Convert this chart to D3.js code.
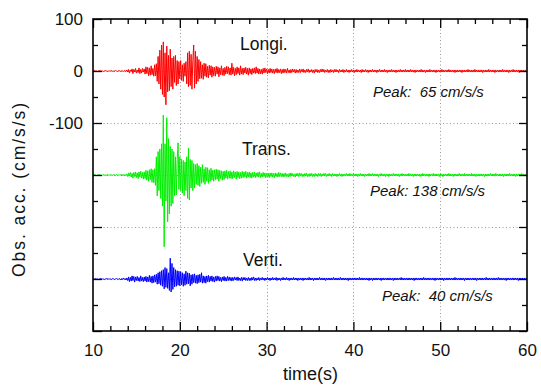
<!DOCTYPE html>
<html>
<head>
<meta charset="utf-8">
<script src="https://cdn.jsdelivr.net/npm/d3@7"></script>
<style>
  body { margin: 0; background: #fff; }
  text { font-family: "Liberation Sans", Arial, sans-serif; fill: #111; }
</style>
</head>
<body>
<div id="chart"></div>
<script>
// time axis of the records
var startTime = 10, sampleStep = 0.1;

// x ticks (s) and y ticks (cm/s/s)
var xMajor = [10, 20, 30, 40, 50, 60];
var xMinor = [12, 14, 16, 18, 22, 24, 26, 28, 32, 34, 36, 38, 42, 44, 46, 48, 52, 54, 56, 58];
var yMajor = [100, 0, -100, -200, -300, -400, -500];
var yMinor = [50, -50, -150, -250, -350, -450];
var yLabelled = [100, 0, -100];

// components, baseline offsets, peak notes
var compNames = ["Longi.", "Trans.", "Verti."];
var compOffsets = [0, -200, -400];
var compColors = ["#ff0000", "#00f000", "#0000ff"];
var peakNotes = ["Peak:  65 cm/s/s", "Peak: 138 cm/s/s", "Peak:  40 cm/s/s"];

// acceleration samples every 0.1 s from 10 s to 60 s (cm/s/s)
var longi = [
  0,0,1,0,0,-1,0,0,1,0,0,0,-1,0,1,0,0,-1,0,0,
  0,1,0,-1,0,0,1,0,-1,0,1,0,-1,1,0,-1,1,0,-1,2,
  -2,3,-4,2,-1,4,-5,3,-2,5,-4,2,-3,6,-5,3,-4,5,-2,4,
  -6,8,-5,7,-9,6,-8,10,-7,5,-10,12,-9,14,-20,28,-25,40,-35,50,
  -45,56,-50,35,-65,48,-40,30,-38,42,-30,25,-35,28,-22,30,-28,20,-25,18,
  -15,20,-18,12,-20,15,-10,18,-25,35,-30,38,-28,32,-35,20,50,-33,38,-25,
  28,-20,22,-15,18,-14,12,-16,15,-10,14,-12,9,-13,11,-8,10,-12,8,-9,
  7,-10,9,-6,8,-11,6,-7,10,-8,5,-9,7,-6,9,-5,8,-7,6,-8,
  15,-6,7,-9,5,-7,8,-5,6,-8,10,-6,5,-7,6,-4,7,-6,5,-8,
  6,-5,4,-7,5,-4,6,-5,8,-4,5,-6,4,-5,3,-6,5,-4,6,-3,
  4,-5,3,-4,5,-3,4,-4,3,-5,4,-3,5,-4,3,-3,4,-5,3,-4,
  4,-3,3,-4,5,-3,2,-4,3,-3,4,-2,3,-4,3,-3,2,-3,4,-3,
  3,-2,4,-3,2,-3,3,-2,4,-3,2,-2,3,-3,2,-4,3,-2,3,-3,
  2,-3,3,-2,4,-2,3,-3,2,-2,3,-3,2,-3,3,-2,2,-3,3,-2,
  3,-2,2,-3,3,-2,2,-2,3,-3,2,-2,3,-2,2,-3,2,-2,3,-2,
  2,-3,2,-2,3,-2,2,-2,2,-3,3,-2,2,-2,3,-2,2,-3,2,-2,
  2,-2,3,-2,2,-2,2,-3,2,-2,3,-2,2,-2,2,-2,3,-2,2,-3,
  2,-2,2,-2,3,-2,2,-2,2,-3,2,-2,2,-2,3,-2,2,-2,2,-2,
  3,-2,2,-2,2,-2,3,-2,2,-2,2,-3,2,-2,2,-2,2,-2,3,-2,
  2,-2,2,-3,2,-2,2,-2,3,-2,2,-2,2,-2,2,-3,2,-2,2,-2,
  2,-2,3,-2,2,-2,2,-2,2,-2,3,-2,2,-2,2,-2,2,-3,2,-2,
  2,-2,2,-2,2,-3,2,-2,2,-2,2,-2,3,-2,2,-2,2,-2,2,-2,
  3,-2,2,-2,2,-2,2,-2,2,-3,2,-2,2,-2,2,-2,3,-2,2,-2,
  2,-2,2,-3,2,-2,2,-2,2,-2,2,-2,3,-2,2,-2,2,-2,2,-3,
  2,-2,2,-2,3,-2,2,-2,2,-2,2,-3,2,-2,2,-2,2,-2,2,-2,
  0
];

var trans = [
  0,0,1,0,-1,0,0,1,0,0,-1,0,1,0,0,-1,0,1,0,0,
  0,1,-1,0,1,0,-1,1,0,-1,1,-1,0,2,-1,1,-2,1,-1,2,
  -3,4,-2,5,-4,3,-6,5,-3,6,-5,4,-7,6,-4,7,-6,5,-8,6,
  -7,9,-10,8,-12,10,-9,12,-14,10,-15,12,-20,35,-40,45,-30,50,-45,60,
  -60,115,-138,60,-50,110,-90,70,-75,55,-60,50,-55,45,-40,35,-38,30,62,-28,
  35,-30,30,-35,28,-40,25,-30,35,-45,52,-48,30,-25,28,-30,22,-25,20,-18,
  22,-20,18,-22,15,-16,20,-14,12,-18,15,-12,14,-16,10,-12,13,-10,9,-12,
  10,-9,11,-8,10,-12,9,-7,8,-10,7,-9,8,-6,9,-8,7,-6,8,-7,
  6,-7,8,-5,6,-8,7,-5,6,-7,5,-6,7,-5,6,-4,7,-6,5,-4,
  6,-5,4,-6,5,-4,6,-5,4,-3,5,-4,6,-5,3,-4,5,-3,4,-5,
  3,-4,3,-5,4,-3,4,-4,3,-5,4,-3,3,-4,5,-3,4,-3,3,-4,
  3,-3,4,-3,2,-4,3,-3,4,-2,3,-3,2,-4,3,-2,3,-3,4,-2,
  3,-3,2,-3,3,-2,4,-3,2,-3,3,-2,3,-3,2,-3,3,-2,2,-3,
  3,-2,3,-3,2,-2,3,-2,3,-3,2,-2,3,-2,2,-3,3,-2,2,-2,
  2,-3,2,-2,3,-2,2,-3,2,-2,2,-2,3,-2,2,-2,3,-2,2,-2,
  3,-2,2,-2,2,-3,2,-2,3,-2,2,-2,2,-3,2,-2,2,-2,3,-2,
  2,-2,3,-2,2,-2,2,-2,2,-3,2,-2,3,-2,2,-2,2,-3,2,-2,
  2,-3,2,-2,2,-2,3,-2,2,-2,2,-2,2,-3,2,-2,3,-2,2,-2,
  2,-2,2,-2,3,-2,2,-2,2,-3,2,-2,2,-2,2,-2,2,-3,2,-2,
  3,-2,2,-2,2,-2,2,-3,2,-2,2,-2,3,-2,2,-2,2,-2,2,-3,
  2,-2,2,-3,2,-2,2,-2,2,-2,3,-2,2,-2,2,-3,2,-2,2,-2,
  2,-2,3,-2,2,-2,2,-2,3,-2,2,-2,2,-2,2,-2,3,-2,2,-2,
  2,-3,2,-2,2,-2,2,-2,2,-2,2,-3,2,-2,2,-2,2,-2,3,-2,
  2,-2,2,-2,3,-2,2,-2,2,-2,2,-2,2,-3,2,-2,2,-2,2,-2,
  3,-2,2,-2,2,-2,2,-3,2,-2,2,-2,2,-2,3,-2,2,-2,2,-2,
  0
];

var verti = [
  0,0,0,1,0,0,-1,0,0,1,0,0,0,-1,0,0,1,0,0,0,
  0,-1,0,1,0,-1,0,1,0,-1,1,0,-2,1,-1,2,-1,1,-2,2,
  -3,4,-5,3,-4,6,-3,5,-6,4,-3,5,-4,3,-5,6,-4,3,-5,4,
  -4,5,-6,4,-5,7,-6,5,-8,6,-7,8,-6,9,-10,12,-9,14,-12,16,
  -14,18,-19,22,-16,20,-18,12,-22,40,-25,30,-20,22,-15,18,-14,16,-12,15,
  -13,14,-11,12,-14,10,-12,15,-10,12,-9,11,-13,8,-10,9,-7,10,-8,7,
  -9,8,-7,9,-6,12,-8,6,-7,5,-8,6,-5,7,-6,5,-4,6,-5,4,
  -6,5,-4,6,-3,5,-4,3,-5,4,-3,5,-4,3,-4,5,-3,4,-3,3,
  -4,3,-3,4,-2,3,-3,4,-3,2,-3,3,-4,3,-2,3,-3,2,-3,3,
  -3,2,-3,3,-2,4,-3,2,-3,2,-2,3,-3,2,-2,3,-2,2,-3,2,
  -2,3,-2,2,-3,2,-2,3,-2,2,-2,3,-3,2,-2,2,-3,2,-2,3,
  -2,2,-2,3,-2,2,-3,2,-2,2,-2,3,-2,2,-2,2,-3,2,-2,2,
  -2,2,-3,2,-2,2,-2,2,-2,3,-2,2,-2,2,-3,2,-2,2,-2,2,
  -2,3,-2,2,-2,2,-2,2,-3,2,-2,2,-2,2,-2,2,-2,3,-2,2,
  -2,2,-2,2,-2,3,-2,2,-2,2,-2,2,-2,2,-3,2,-2,2,-2,2,
  -2,2,-2,2,-2,2,-2,3,-2,2,-2,2,-2,2,-2,2,-2,2,-3,2,
  -2,2,-3,2,-2,2,-2,2,-2,2,-2,2,-3,2,-2,2,-2,2,-2,2,
  -2,2,-2,2,-2,2,-3,2,-2,2,-2,2,-2,2,-2,3,-2,2,-2,2,
  -2,2,-2,2,-2,2,-2,2,-2,2,-3,2,-2,2,-2,2,-2,2,-2,2,
  -2,3,-2,2,-2,2,-2,2,-2,2,-2,2,-2,2,-3,2,-2,2,-2,2,
  -2,2,-2,2,-3,2,-2,2,-2,2,-2,2,-2,2,-2,2,-2,3,-2,2,
  -2,2,-2,2,-2,2,-2,2,-3,2,-2,2,-2,2,-2,2,-2,2,-2,2,
  -2,2,-3,2,-2,2,-2,2,-2,2,-2,2,-2,3,-2,2,-2,2,-2,2,
  -2,2,-2,2,-2,2,-2,3,-2,2,-2,2,-2,2,-2,2,-3,2,-2,2,
  -2,2,-2,2,-2,2,-2,2,-2,2,-3,2,-2,2,-2,2,-2,2,-2,2,
  0
];

var records = [longi, trans, verti];

var width = 541, height = 385;
var margin = {top: 19, right: 14, bottom: 54, left: 93};

var svg = d3.select("#chart").append("svg")
    .attr("width", width)
    .attr("height", height);

var x = d3.scaleLinear().domain([10, 60]).range([margin.left, width - margin.right]);
var y = d3.scaleLinear().domain([-500, 100]).range([height - margin.bottom, margin.top]);

//dotted grid
var grid = svg.append("g").attr("stroke", "#999").attr("stroke-width", 1).attr("stroke-dasharray", "1,2.5");
grid.selectAll(".gx").data(xMajor.slice(1, -1)).enter().append("line")
    .attr("x1", function(d) { return Math.round(x(d)) + 0.5; })
    .attr("x2", function(d) { return Math.round(x(d)) + 0.5; })
    .attr("y1", y(100)).attr("y2", y(-500));
grid.selectAll(".gy").data(yMajor.slice(1, -1)).enter().append("line")
    .attr("y1", function(d) { return Math.round(y(d)) + 0.5; })
    .attr("y2", function(d) { return Math.round(y(d)) + 0.5; })
    .attr("x1", x(10)).attr("x2", x(60));

//traces
var line = d3.line()
    .x(function(d, i) { return x(startTime + i * sampleStep); });

records.forEach(function(rec, k) {
  svg.append("path")
      .datum(rec)
      .attr("fill", "none")
      .attr("stroke", compColors[k])
      .attr("stroke-width", 1)
      .attr("stroke-linejoin", "round")
      .attr("d", line.y(function(d) { return y(d + compOffsets[k]); }));
});

//axes with inward ticks
function styleAxis(g) {
  g.select(".domain").remove();
  g.selectAll("line").attr("stroke", "#000").attr("stroke-width", 1.3);
  g.selectAll("text").attr("font-size", "17px").attr("fill", "#111")
    .attr("font-family", "'Liberation Sans', Arial, sans-serif");
}

svg.append("g")
    .attr("transform", "translate(0," + y(-500) + ")")
    .call(d3.axisBottom(x).tickValues(xMajor).tickSizeInner(-9).tickSizeOuter(0).tickPadding(13)
      .tickFormat(function(d) { return d; }))
    .call(styleAxis);
svg.append("g")
    .attr("transform", "translate(0," + y(-500) + ")")
    .call(d3.axisBottom(x).tickValues(xMinor).tickSizeInner(-5).tickSizeOuter(0).tickFormat(""))
    .call(styleAxis);
svg.append("g")
    .attr("transform", "translate(0," + y(100) + ")")
    .call(d3.axisTop(x).tickValues(xMajor).tickSizeInner(-9).tickSizeOuter(0).tickFormat(""))
    .call(styleAxis);
svg.append("g")
    .attr("transform", "translate(0," + y(100) + ")")
    .call(d3.axisTop(x).tickValues(xMinor).tickSizeInner(-5).tickSizeOuter(0).tickFormat(""))
    .call(styleAxis);

svg.append("g")
    .attr("transform", "translate(" + x(10) + ",0)")
    .call(d3.axisLeft(y).tickValues(yMajor).tickSizeInner(-9).tickSizeOuter(0).tickPadding(10)
      .tickFormat(function(d) { return yLabelled.indexOf(d) >= 0 ? String(d) : ""; }))
    .call(styleAxis);
svg.append("g")
    .attr("transform", "translate(" + x(10) + ",0)")
    .call(d3.axisLeft(y).tickValues(yMinor).tickSizeInner(-5).tickSizeOuter(0).tickFormat(""))
    .call(styleAxis);
svg.append("g")
    .attr("transform", "translate(" + x(60) + ",0)")
    .call(d3.axisRight(y).tickValues(yMajor).tickSizeInner(-8).tickSizeOuter(0).tickFormat(""))
    .call(styleAxis);
svg.append("g")
    .attr("transform", "translate(" + x(60) + ",0)")
    .call(d3.axisRight(y).tickValues(yMinor).tickSizeInner(-5).tickSizeOuter(0).tickFormat(""))
    .call(styleAxis);

//frame
svg.append("rect")
    .attr("x", x(10)).attr("y", y(100))
    .attr("width", x(60) - x(10)).attr("height", y(-500) - y(100))
    .attr("fill", "none").attr("stroke", "#000").attr("stroke-width", 1.6);

//component names and peaks
var namePos = [[240, 50], [242, 155], [243, 266]];
var peakPos = [[373, 97], [370, 196], [382, 301]];
compNames.forEach(function(n, k) {
  svg.append("text").attr("x", namePos[k][0]).attr("y", namePos[k][1])
      .attr("font-size", "17.5px").text(n);
  svg.append("text").attr("x", peakPos[k][0]).attr("y", peakPos[k][1])
      .attr("font-size", "15px").attr("font-style", "italic")
      .style("white-space", "pre").text(peakNotes[k]);
});

//axis titles
svg.append("text")
    .attr("x", (x(10) + x(60)) / 2 + 0.5).attr("y", 380)
    .attr("text-anchor", "middle").attr("font-size", "18px")
    .text("time(s)");
svg.append("text")
    .attr("transform", "translate(25,190) rotate(-90)")
    .attr("text-anchor", "middle").attr("font-size", "17.5px")
    .attr("textLength", 174).attr("lengthAdjust", "spacing")
    .text("Obs. acc. (cm/s/s)");
</script>
</body>
</html>
